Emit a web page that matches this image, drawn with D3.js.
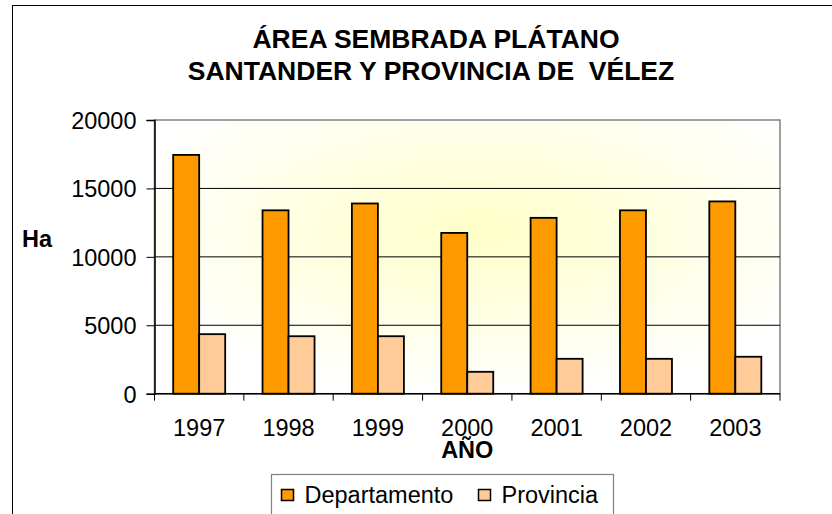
<!DOCTYPE html>
<html>
<head>
<meta charset="utf-8">
<script src="https://cdn.jsdelivr.net/npm/d3@7"></script>
<style>
  body { margin: 0; background: #fff; }
  text { font-family: "Liberation Sans", Arial, sans-serif; fill: #000; }
</style>
</head>
<body>
<div id="chart"></div>
<script>
// data
var years = ["1997", "1998", "1999", "2000", "2001", "2002", "2003"];
var departamento = [17450, 13400, 13900, 11750, 12850, 13400, 14050];
var provincia = [4350, 4200, 4200, 1600, 2550, 2550, 2700];
var seriesNames = ["Departamento", "Provincia"];
var seriesColors = ["#FF9900", "#FFCC99"];
var yTicks = [0, 5000, 10000, 15000, 20000];

var W = 832, H = 514;
var plot = { left: 154.5, right: 780, top: 120, bottom: 393.7 };
var fs = 23.5;

var svg = d3.select("#chart").append("svg")
  .attr("width", W)
  .attr("height", H);

// outer chart frame (cut off on the right and bottom)
svg.append("rect")
  .attr("x", 12.5).attr("y", 5.5)
  .attr("width", 900).attr("height", 600)
  .attr("fill", "#fff")
  .attr("stroke", "#000")
  .attr("stroke-width", 1);

var defs = svg.append("defs");
var grad = defs.append("radialGradient")
  .attr("id", "bg")
  .attr("cx", "52%").attr("cy", "40%").attr("r", "60%");
grad.append("stop").attr("offset", "0%").attr("stop-color", "#FFFFC8");
grad.append("stop").attr("offset", "100%").attr("stop-color", "#FFFFFF");

var x0 = d3.scaleBand()
  .domain(years)
  .range([plot.left, plot.right])
  .paddingInner(0.418)
  .paddingOuter(0.209);

var x1 = d3.scaleBand()
  .domain(seriesNames)
  .range([0, x0.bandwidth()]);

var y = d3.scaleLinear()
  .domain([0, 20000])
  .range([plot.bottom, plot.top]);

// plot background
svg.append("rect")
  .attr("x", plot.left).attr("y", plot.top)
  .attr("width", plot.right - plot.left)
  .attr("height", plot.bottom - plot.top)
  .attr("fill", "url(#bg)")
  .attr("stroke", "#808080")
  .attr("stroke-width", 1.5);

// gridlines
svg.append("g")
  .selectAll("line")
  .data(yTicks.filter(d => d > 0 && d < 20000))
  .join("line")
  .attr("x1", plot.left).attr("x2", plot.right)
  .attr("y1", d => y(d)).attr("y2", d => y(d))
  .attr("stroke", "#000")
  .attr("stroke-width", 1);

// bars
var rows = years.map((yr, i) => ({ year: yr, values: [departamento[i], provincia[i]] }));

svg.append("g")
  .selectAll("g")
  .data(rows)
  .join("g")
  .attr("transform", d => `translate(${x0(d.year)},0)`)
  .selectAll("rect")
  .data(d => d.values.map((v, k) => ({ key: seriesNames[k], value: v, k: k })))
  .join("rect")
  .attr("x", d => x1(d.key))
  .attr("y", d => y(d.value))
  .attr("width", x1.bandwidth())
  .attr("height", d => y(0) - y(d.value))
  .attr("fill", d => seriesColors[d.k])
  .attr("stroke", "#000")
  .attr("stroke-width", 1.8);

// y axis
var yAxis = d3.axisLeft(y)
  .tickValues(yTicks)
  .tickSize(8)
  .tickPadding(10)
  .tickFormat(d3.format("d"));

var gy = svg.append("g")
  .attr("transform", `translate(${plot.left},0)`)
  .call(yAxis);
gy.select(".domain").attr("stroke", "#000").attr("stroke-width", 1.5);
gy.selectAll(".tick line").attr("stroke", "#000");
gy.selectAll(".tick text")
  .attr("font-size", fs)
  .attr("font-family", "Liberation Sans, Arial, sans-serif")
  .attr("dy", "0.36em");

// x axis with ticks at category boundaries
var gx = svg.append("g")
  .attr("transform", `translate(0,${plot.bottom})`);
gx.append("line")
  .attr("x1", plot.left).attr("x2", plot.right)
  .attr("y1", 0).attr("y2", 0)
  .attr("stroke", "#000").attr("stroke-width", 1.5);
var step = x0.step();
gx.selectAll("line.tk")
  .data(d3.range(years.length + 1))
  .join("line")
  .attr("class", "tk")
  .attr("x1", i => plot.left + i * step)
  .attr("x2", i => plot.left + i * step)
  .attr("y1", 0).attr("y2", 7)
  .attr("stroke", "#000");
gx.selectAll("text")
  .data(years)
  .join("text")
  .attr("x", d => x0(d) + x0.bandwidth() / 2)
  .attr("y", 42.5)
  .attr("text-anchor", "middle")
  .attr("font-size", fs)
  .text(d => d);

// titles
var title = svg.append("text")
  .attr("text-anchor", "middle")
  .attr("font-size", 26.5)
  .attr("font-weight", "bold")
  .style("white-space", "pre");
title.append("tspan").attr("x", 436).attr("y", 48).text("ÁREA SEMBRADA PLÁTANO");
title.append("tspan").attr("x", 431).attr("y", 80).text("SANTANDER Y PROVINCIA DE  VÉLEZ");

svg.append("text")
  .attr("x", 22).attr("y", 247)
  .attr("font-size", fs)
  .attr("font-weight", "bold")
  .text("Ha");

svg.append("text")
  .attr("x", (plot.left + plot.right) / 2).attr("y", 458)
  .attr("text-anchor", "middle")
  .attr("font-size", fs)
  .attr("font-weight", "bold")
  .text("AÑO");

// legend
var legend = svg.append("g");
legend.append("rect")
  .attr("x", 271.5).attr("y", 474.5)
  .attr("width", 342).attr("height", 60)
  .attr("fill", "#fff")
  .attr("stroke", "#808080")
  .attr("stroke-width", 1.2);

var legendX = [281, 478];
var items = legend.selectAll("g")
  .data(seriesNames)
  .join("g")
  .attr("transform", (d, i) => `translate(${legendX[i]},0)`);
items.append("rect")
  .attr("x", 0.5).attr("y", 489.5)
  .attr("width", 12).attr("height", 11)
  .attr("fill", (d, i) => seriesColors[i])
  .attr("stroke", "#000")
  .attr("stroke-width", 1.5);
items.append("text")
  .attr("x", 23.5).attr("y", 503)
  .attr("font-size", fs)
  .text(d => d);
</script>
</body>
</html>
